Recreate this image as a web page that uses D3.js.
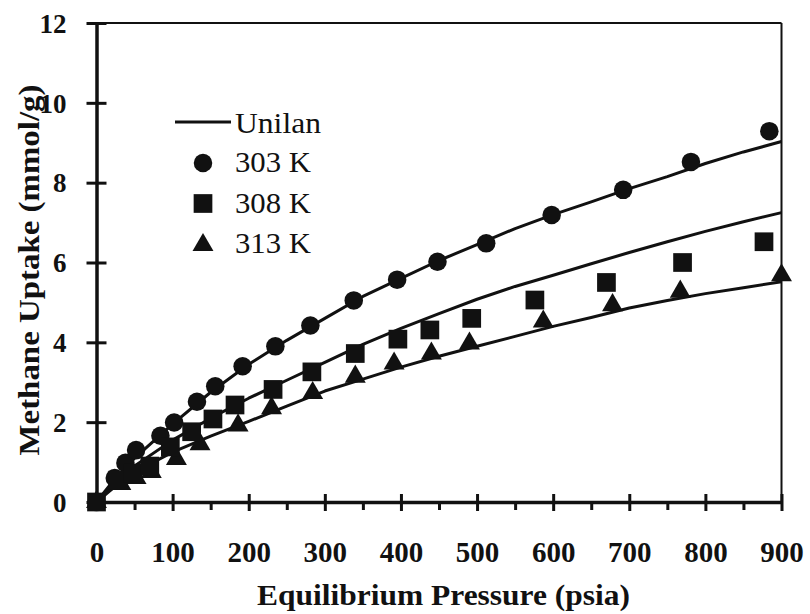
<!DOCTYPE html>
<html lang="en">
<head>
    <meta charset="UTF-8">
    <title>Methane Uptake</title>
    <script src="https://d3js.org/d3.v7.min.js"></script>
    <style>
        body { margin: 0; background: #fff; }
        svg text { font-family: "Liberation Serif", Tinos, "Times New Roman", Times, "DejaVu Serif", serif !important; fill: #111; }
    </style>
</head>
<body>
    <svg id="chart" width="810" height="614"></svg>

    <script>
        // measured points (pressure psia, uptake mmol/g)
        const p303 = [0, 24, 38, 52, 84, 102, 132, 156, 192, 235, 281, 338, 395, 448, 512, 598, 692, 781, 884];
        const u303 = [0, 0.6, 0.98, 1.3, 1.66, 1.99, 2.51, 2.9, 3.4, 3.9, 4.42, 5.05, 5.57, 6.02, 6.48, 7.19, 7.82, 8.52, 9.29];

        const p308 = [0, 28, 48, 70, 97, 125, 153, 182, 232, 283, 340, 396, 438, 493, 576, 670, 770, 877];
        const u308 = [0, 0.55, 0.72, 0.9, 1.38, 1.76, 2.08, 2.43, 2.82, 3.26, 3.72, 4.08, 4.31, 4.6, 5.06, 5.5, 6.0, 6.52];

        const p313 = [0, 32, 52, 72, 105, 136, 186, 230, 284, 340, 391, 440, 490, 587, 678, 767, 900];
        const u313 = [0, 0.45, 0.6, 0.75, 1.08, 1.45, 1.92, 2.35, 2.73, 3.14, 3.47, 3.72, 3.97, 4.52, 4.93, 5.27, 5.68];

        // Unilan fit curves
        const pFit = [0, 25, 50, 100, 150, 200, 250, 300, 350, 400, 450, 500, 550, 600, 650, 700, 750, 800, 850, 900];
        const fit303 = [0, 0.6, 1.1, 1.95, 2.75, 3.45, 4.05, 4.6, 5.15, 5.6, 6.05, 6.45, 6.85, 7.2, 7.52, 7.85, 8.15, 8.48, 8.77, 9.03];
        const fit308 = [0, 0.5, 0.9, 1.55, 2.1, 2.6, 3.05, 3.5, 3.95, 4.35, 4.72, 5.08, 5.4, 5.68, 5.97, 6.25, 6.52, 6.78, 7.02, 7.25];
        const fit313 = [0, 0.4, 0.75, 1.25, 1.65, 2.02, 2.4, 2.78, 3.08, 3.38, 3.65, 3.9, 4.15, 4.4, 4.62, 4.86, 5.05, 5.22, 5.37, 5.52];

        const xTicks = [0, 100, 200, 300, 400, 500, 600, 700, 800, 900];
        const xMinor = [50, 150, 250, 350, 450, 550, 650, 750, 850];
        const yTicks = [0, 2, 4, 6, 8, 10, 12];

        const legendLabels = ["303 K", "308 K", "313 K"];

        const svg = d3.select("#chart");
        const ink = "#111";
        const serif = "'Liberation Serif', Tinos, 'Times New Roman', Times, 'DejaVu Serif', serif";

        const x = d3.scaleLinear().domain([0, 900]).range([96.5, 781.5]);
        const y = d3.scaleLinear().domain([0, 12]).range([502, 23]);

        // frame top + right
        svg.append("line")
            .attr("x1", x(0)).attr("x2", x(900))
            .attr("y1", y(12)).attr("y2", y(12))
            .attr("stroke", ink).attr("stroke-width", 2.2);
        svg.append("line")
            .attr("x1", x(900)).attr("x2", x(900))
            .attr("y1", y(12)).attr("y2", y(0))
            .attr("stroke", ink).attr("stroke-width", 2);

        // x axis
        const gx = svg.append("g")
            .attr("transform", `translate(0,${y(0)})`)
            .call(d3.axisBottom(x).tickValues(xTicks).tickSize(9).tickSizeOuter(0).tickFormat(d3.format("d")))
            .attr("font-family", serif);
        gx.select(".domain").attr("stroke", ink).attr("stroke-width", 3.5);
        gx.selectAll(".tick line").attr("y1", -8).attr("stroke", ink).attr("stroke-width", 3);
        gx.selectAll(".tick text")
            .attr("y", 39)
            .attr("font-weight", "bold")
            .attr("font-size", 29)
            .attr("fill", ink);

        const gxm = svg.append("g")
            .attr("transform", `translate(0,${y(0)})`)
            .call(d3.axisBottom(x).tickValues(xMinor).tickSize(8).tickFormat(""));
        gxm.select(".domain").remove();
        gxm.selectAll(".tick line").attr("stroke", ink).attr("stroke-width", 3);

        // y axis
        const gy = svg.append("g")
            .attr("transform", `translate(${x(0)},0)`)
            .call(d3.axisLeft(y).tickValues(yTicks).tickSize(10).tickSizeOuter(0).tickPadding(20))
            .attr("font-family", serif);
        gy.select(".domain").attr("stroke", ink).attr("stroke-width", 3.5);
        gy.selectAll(".tick line").attr("x2", 10).attr("x1", -10).attr("stroke", ink).attr("stroke-width", 3);
        gy.selectAll(".tick text")
            .attr("dy", "0.34em")
            .attr("font-weight", "bold")
            .attr("font-size", 27)
            .attr("fill", ink);

        // axis titles
        svg.append("text")
            .attr("x", 443.5)
            .attr("y", 605)
            .attr("text-anchor", "middle")
            .attr("font-weight", "bold")
            .attr("font-size", 30)
            .attr("textLength", 373)
            .attr("lengthAdjust", "spacingAndGlyphs")
            .text("Equilibrium Pressure (psia)");

        svg.append("text")
            .attr("transform", "translate(39,270) rotate(-90)")
            .attr("text-anchor", "middle")
            .attr("font-weight", "bold")
            .attr("font-size", 30)
            .attr("textLength", 371)
            .attr("lengthAdjust", "spacingAndGlyphs")
            .text("Methane Uptake (mmol/g)");

        // fit lines
        const line = d3.line()
            .x(d => x(d[0]))
            .y(d => y(d[1]));

        [fit303, fit308, fit313].forEach(f => {
            svg.append("path")
                .datum(pFit.map((p, i) => [p, f[i]]))
                .attr("fill", "none")
                .attr("stroke", ink)
                .attr("stroke-width", 3)
                .attr("stroke-linejoin", "round")
                .attr("d", line);
        });

        // markers
        const circleSym = d3.symbol().type(d3.symbolCircle).size(270);
        const squareSym = d3.symbol().type(d3.symbolSquare).size(350);
        const triSym = d3.symbol().type(d3.symbolTriangle).size(190);

        svg.append("g").selectAll("path")
            .data(p303.map((p, i) => [p, u303[i]]))
            .join("path")
            .attr("transform", d => `translate(${x(d[0])},${y(d[1])})`)
            .attr("d", circleSym)
            .attr("fill", ink);

        svg.append("g").selectAll("path")
            .data(p313.map((p, i) => [p, u313[i]]))
            .join("path")
            .attr("transform", d => `translate(${x(d[0])},${y(d[1])})`)
            .attr("d", triSym)
            .attr("fill", ink);

        svg.append("g").selectAll("path")
            .data(p308.map((p, i) => [p, u308[i]]))
            .join("path")
            .attr("transform", d => `translate(${x(d[0])},${y(d[1])})`)
            .attr("d", squareSym)
            .attr("fill", ink);

        // legend
        const leg = svg.append("g");
        leg.append("line")
            .attr("x1", 175).attr("x2", 231)
            .attr("y1", 122).attr("y2", 122)
            .attr("stroke", ink).attr("stroke-width", 3.2);
        leg.append("text")
            .attr("x", 235).attr("y", 133)
            .attr("font-size", 30)
            .attr("textLength", 86)
            .attr("lengthAdjust", "spacingAndGlyphs")
            .text("Unilan");

        const legSyms = [circleSym, squareSym, triSym];
        legendLabels.forEach((lab, i) => {
            const cy = 163 + i * 40.5;
            leg.append("path")
                .attr("transform", `translate(203,${cy + (i === 2 ? 1 : 0)})`)
                .attr("d", legSyms[i])
                .attr("fill", ink);
            leg.append("text")
                .attr("x", 235).attr("y", cy + 9)
                .attr("font-size", 30)
                .attr("textLength", 76)
                .attr("lengthAdjust", "spacingAndGlyphs")
                .text(lab);
        });
    </script>
</body>
</html>
